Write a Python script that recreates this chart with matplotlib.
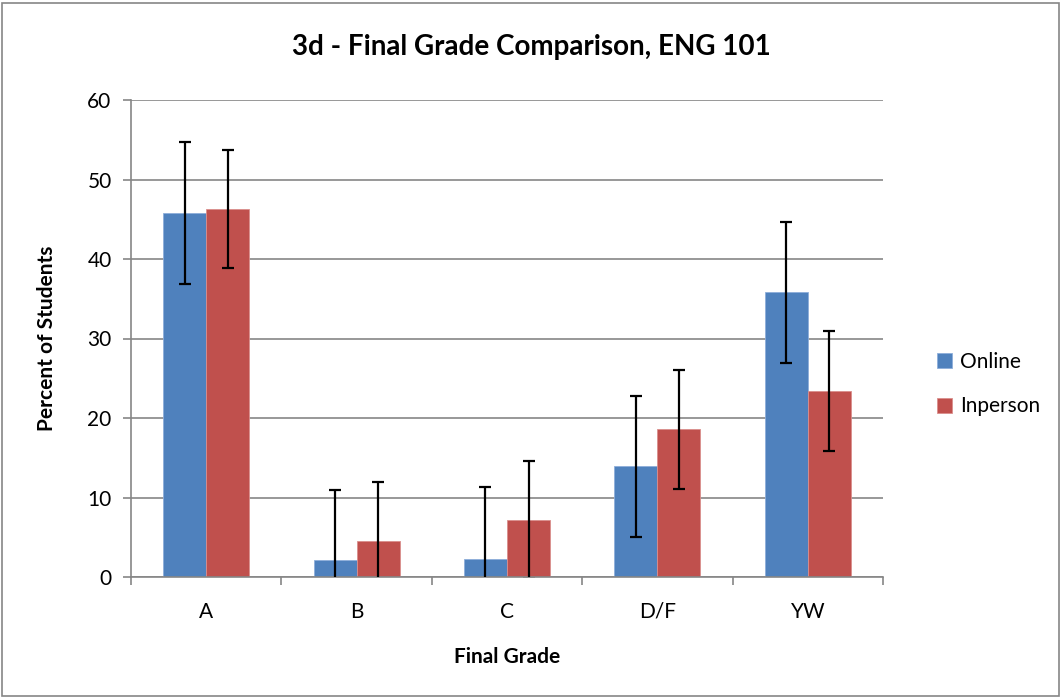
import matplotlib.pyplot as plt
import numpy as np
from matplotlib.patches import Rectangle

plt.rcParams['font.family'] = ['Lato', 'DejaVu Sans']

# data
grades = ['A', 'B', 'C', 'D/F', 'YW']
online = [45.8, 2.1, 2.3, 13.9, 35.8]
inperson = [46.3, 4.5, 7.2, 18.6, 23.4]
online_err = [8.9, 8.9, 9.0, 8.9, 8.9]
inperson_err = [7.4, 7.5, 7.4, 7.5, 7.5]

fig = plt.figure(figsize=(10.62, 6.98), dpi=100)
ax = fig.add_axes([131 / 1062, 1 - 577 / 698, 752 / 1062, 477 / 698])

# outer chart border
fig.patches.append(Rectangle((2 / 1062, 2 / 698), 1057 / 1062, 693 / 698,
                             transform=fig.transFigure, fill=False,
                             edgecolor='#868686', linewidth=1.2))

x = np.arange(len(grades))
w = 0.286
err_kw = dict(ecolor='black', elinewidth=1.6, capsize=4.5, capthick=1.6)
ax.bar(x - w / 2, online, w, color='#4F81BD', edgecolor='#8EAEDA', linewidth=0.6,
       label='Online', zorder=2)
ax.bar(x + w / 2, inperson, w, color='#C0504D', edgecolor='#DA8E8C', linewidth=0.6,
       label='Inperson', zorder=2)
# error bars (lower ends cut at the axis)
ax.errorbar(x - w / 2, online, yerr=online_err, fmt='none', zorder=3, **err_kw)
ax.errorbar(x + w / 2, inperson, yerr=inperson_err, fmt='none', zorder=3, **err_kw)

ax.set_xlim(-0.5, len(grades) - 0.5)
ax.set_ylim(0, 60)
ax.set_yticks(range(0, 61, 10))
ax.set_xticks(x)
ax.set_xticklabels(grades)
ax.set_xticks(np.arange(-0.5, len(grades), 1), minor=True)
ax.tick_params(axis='x', which='major', length=0, labelsize=15, pad=18)
ax.tick_params(axis='x', which='minor', length=6, color='#868686', width=1.2)
ax.tick_params(axis='y', length=6, color='#868686', width=1.2, labelsize=15, pad=8)

ax.grid(axis='y', color='#868686', linewidth=1.2, zorder=0)
ax.set_axisbelow(True)
for side in ['top', 'right']:
    ax.spines[side].set_visible(False)
for side in ['left', 'bottom']:
    ax.spines[side].set_color('#868686')
    ax.spines[side].set_linewidth(1.2)

ax.set_xlabel('Final Grade', fontsize=15, fontweight='bold', labelpad=18)
ax.set_ylabel('Percent of Students', fontsize=15, fontweight='bold', labelpad=22)
fig.text(0.5, 1 - 47 / 698, '3d - Final Grade Comparison, ENG 101', ha='center',
         va='center', fontsize=20, fontweight='bold')

fig.legend(loc='center left', bbox_to_anchor=(918 / 1062, 1 - 384 / 698),
           frameon=False, fontsize=15, handlelength=0.75, handleheight=0.75,
           handletextpad=0.35, labelspacing=1.2)

plt.savefig('out.png', dpi=100)
